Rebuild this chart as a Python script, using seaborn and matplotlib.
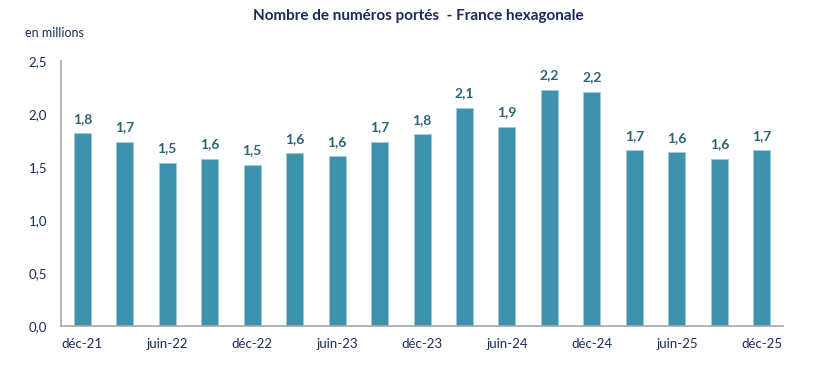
import matplotlib
matplotlib.use('Agg')
import matplotlib.pyplot as plt
import seaborn as sns
import pandas as pd

# données trimestrielles (en millions)
periodes = ['déc-21', 'mars-22', 'juin-22', 'sept-22', 'déc-22', 'mars-23', 'juin-23', 'sept-23',
            'déc-23', 'mars-24', 'juin-24', 'sept-24', 'déc-24', 'mars-25', 'juin-25', 'sept-25', 'déc-25']
valeurs = [1.82, 1.74, 1.54, 1.58, 1.52, 1.63, 1.60, 1.74,
           1.81, 2.06, 1.88, 2.23, 2.21, 1.66, 1.64, 1.58, 1.66]
yticks = [0.0, 0.5, 1.0, 1.5, 2.0, 2.5]

bar_color = '#3E92AB'
navy = '#1B2A5C'
label_color = '#2E6275'

sns.set_style('white')
plt.rcParams['font.family'] = ['Lato', 'DejaVu Sans']

df = pd.DataFrame({'periode': periodes, 'valeur': valeurs})

fig = plt.figure(figsize=(8.37, 3.7), dpi=100)
ax = fig.add_axes([0.0729, 0.119, 0.8626, 0.716])
sns.barplot(data=df, x='periode', y='valeur', color=bar_color, width=0.4,
            edgecolor='#9CCBD8', linewidth=0.6, saturation=1, ax=ax)

# étiquettes de données
for i, v in enumerate(valeurs):
    ax.annotate(f'{v:.1f}'.replace('.', ','), (i, v), xytext=(0, 6), textcoords='offset points',
                ha='center', va='bottom', fontsize=10, fontweight='bold', color=label_color)

ax.set_ylim(0, 2.5)
ax.set_xlim(-0.5, len(periodes) - 0.5)
ax.set_yticks(yticks)
ax.set_yticklabels([f'{t:.1f}'.replace('.', ',') for t in yticks], fontsize=9.5, color=navy)

idx = list(range(0, len(periodes), 2))
ax.set_xticks(idx)
ax.set_xticklabels([periodes[i] for i in idx], fontsize=9.5, color=navy)
ax.set_xticks([i - 0.5 for i in range(len(periodes) + 1)], minor=True)
ax.tick_params(axis='x', which='major', length=0, pad=9)
ax.tick_params(axis='x', which='minor', length=4, color='#A0A0A0', width=1, direction='out')
ax.tick_params(axis='y', length=4, color='#A0A0A0', width=1, direction='out', pad=6)

for s in ['top', 'right']:
    ax.spines[s].set_visible(False)
for s in ['left', 'bottom']:
    ax.spines[s].set_color('#A6A6A6')
    ax.spines[s].set_linewidth(1.2)
ax.set_xlabel('')
ax.set_ylabel('')

fig.text(0.5, 0.957, 'Nombre de numéros portés  - France hexagonale', ha='center', va='center',
         fontsize=11, fontweight='bold', color=navy)
fig.text(0.03, 0.91, 'en millions', ha='left', va='center', fontsize=9, color=navy)

fig.savefig('out.png', dpi=100)
